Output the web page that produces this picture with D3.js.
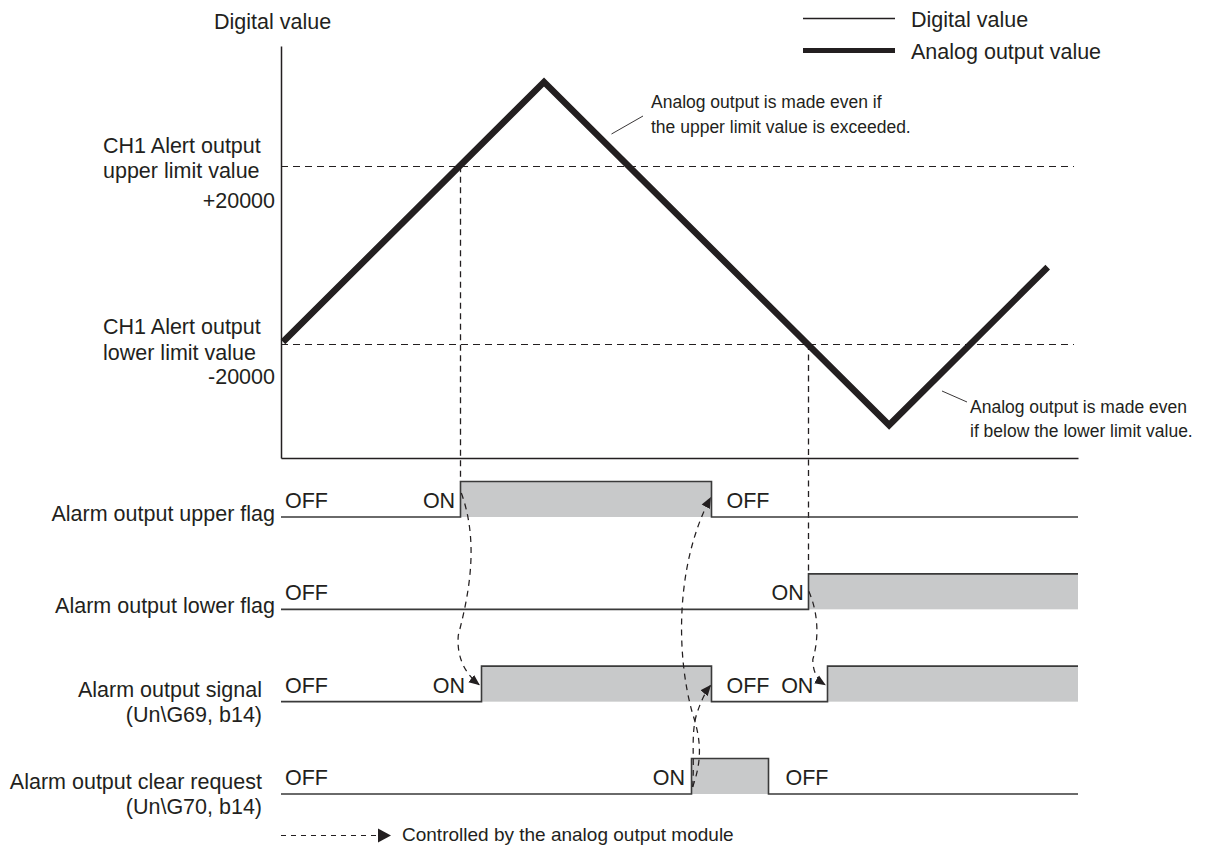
<!DOCTYPE html>
<html><head><meta charset="utf-8">
<script src="https://cdn.jsdelivr.net/npm/d3@7"></script>
<style>
body{margin:0;background:#fff}
svg{display:block}
text{font-family:"Liberation Sans",Arial,sans-serif;fill:#231f20}
</style>
</head><body>
<svg id="c" width="1212" height="847"></svg>
<script>
// ---------- data ----------
const timeDomain = [0, 100];
const valueDomain = [-45600, 47000];
const analogTimes = [0.25, 33.0, 76.3, 96.2];
const analogValues = [-19500, 38900, -38200, -2700];
const upperLimit = 20000;
const lowerLimit = -20000;
const limitLabels = [["CH1 Alert output", "upper limit value", "+20000"], ["CH1 Alert output", "lower limit value", "-20000"]];
const rowNames = ["Alarm output upper flag", "Alarm output lower flag", "Alarm output signal", "Alarm output clear request"];
const rowSubNames = ["", "", "(Un\\G69, b14)", "(Un\\G70, b14)"];
const upperFlagOn = [[22.5, 54.0]];
const lowerFlagOn = [[66.1, 100]];
const signalOn = [[25.1, 54.0], [68.5, 100]];
const clearOn = [[51.4, 61.1]];
const rowIntervals = [upperFlagOn, lowerFlagOn, signalOn, clearOn];
// state labels: [text, time, anchor]
const upperLabels = [["OFF", 0.5, "start"], ["ON", 21.85, "end"], ["OFF", 55.9, "start"]];
const lowerLabels = [["OFF", 0.5, "start"], ["ON", 65.6, "end"]];
const signalLabels = [["OFF", 0.5, "start"], ["ON", 23.1, "end"], ["OFF", 55.9, "start"], ["ON", 66.8, "end"]];
const clearLabels = [["OFF", 0.5, "start"], ["ON", 50.7, "end"], ["OFF", 63.3, "start"]];
const rowLabels = [upperLabels, lowerLabels, signalLabels, clearLabels];
const legendNames = ["Digital value", "Analog output value"];
const noteUpper = ["Analog output is made even if", "the upper limit value is exceeded."];
const noteLower = ["Analog output is made even", "if below the lower limit value."];
const controlNote = "Controlled by the analog output module";

// ---------- layout ----------
const svg = d3.select("#c");
const INK = "#231f20";
const x = d3.scaleLinear().domain(timeDomain).range([281, 1078]);
const y = d3.scaleLinear().domain(valueDomain).range([458, 46]);
const rowY = d3.scalePoint().domain(rowNames).range([517, 794]);
const H = 35.5;
const px = v => Math.round(v) + 0.5; // crisp vertical hairlines

// markers
const defs = svg.append("defs");
defs.append("marker").attr("id", "ah").attr("viewBox", "0 0 10 10")
  .attr("refX", 9).attr("refY", 5).attr("markerWidth", 11).attr("markerHeight", 11)
  .attr("markerUnits", "userSpaceOnUse").attr("orient", "auto")
  .append("path").attr("d", "M0,0.8 L10,5 L0,9.2 Z").attr("fill", INK);

// title
svg.append("text").attr("x", 214).attr("y", 29).attr("font-size", 21.5).text("Digital value");

// axes
const gy = svg.append("g").attr("transform", `translate(${x(0)},0)`)
  .call(d3.axisLeft(y).tickValues([]).tickSizeOuter(0));
const gx = svg.append("g").attr("transform", `translate(0,${y(valueDomain[0])})`)
  .call(d3.axisBottom(x).tickValues([]).tickSizeOuter(0));
[gx, gy].forEach(g => g.select(".domain").attr("stroke", INK).attr("stroke-width", 1.5));

// limit lines
[upperLimit, lowerLimit].forEach(v => {
  svg.append("line").attr("x1", x(0)).attr("x2", x(99.5)).attr("y1", px(y(v))).attr("y2", px(y(v)))
    .attr("stroke", INK).attr("stroke-width", 1.2).attr("stroke-dasharray", "7,5");
});

// limit labels
[[upperLimit, limitLabels[0]], [lowerLimit, limitLabels[1]]].forEach(([v, lab], i) => {
  const yy = y(v);
  const off = i === 0 ? [-13, 12, 42] : [-10, 16, 40];
  svg.append("text").attr("x", 103).attr("y", yy + off[0]).attr("font-size", 21.5).text(lab[0]);
  svg.append("text").attr("x", 103).attr("y", yy + off[1]).attr("font-size", 21.5).text(lab[1]);
  svg.append("text").attr("x", 275).attr("y", yy + off[2]).attr("font-size", 21.5).attr("text-anchor", "end").text(lab[2]);
});

// analog output line
const pts = analogTimes.map((t, i) => [t, analogValues[i]]);
svg.append("path").datum(pts)
  .attr("d", d3.line().x(d => x(d[0])).y(d => y(d[1])))
  .attr("fill", "none").attr("stroke", INK).attr("stroke-width", 6.5).attr("stroke-linejoin", "miter");

// vertical dashed lines from limit crossings to flags
svg.append("line").attr("x1", px(x(upperFlagOn[0][0]))).attr("x2", px(x(upperFlagOn[0][0])))
  .attr("y1", y(upperLimit)).attr("y2", rowY(rowNames[0]) - H)
  .attr("stroke", INK).attr("stroke-width", 1.3).attr("stroke-dasharray", "6,4.5");
svg.append("line").attr("x1", px(x(lowerFlagOn[0][0]))).attr("x2", px(x(lowerFlagOn[0][0])))
  .attr("y1", y(lowerLimit)).attr("y2", rowY(rowNames[1]) - H)
  .attr("stroke", INK).attr("stroke-width", 1.3).attr("stroke-dasharray", "6,4.5");

// annotations
svg.append("line").attr("x1", 611.5).attr("y1", 134).attr("x2", 643).attr("y2", 116).attr("stroke", INK).attr("stroke-width", 0.9);
noteUpper.forEach((s, i) => svg.append("text").attr("x", 651).attr("y", 108 + i * 24.5).attr("font-size", 17.5).text(s));
svg.append("line").attr("x1", 942).attr("y1", 391).attr("x2", 967).attr("y2", 402).attr("stroke", INK).attr("stroke-width", 0.9);
noteLower.forEach((s, i) => svg.append("text").attr("x", 970).attr("y", 413 + i * 24).attr("font-size", 17.5).text(s));

// legend
svg.append("line").attr("x1", 803).attr("x2", 895).attr("y1", 18.5).attr("y2", 18.5).attr("stroke", INK).attr("stroke-width", 1.3);
svg.append("line").attr("x1", 803).attr("x2", 895).attr("y1", 50.5).attr("y2", 50.5).attr("stroke", INK).attr("stroke-width", 5);
legendNames.forEach((s, i) => svg.append("text").attr("x", 911).attr("y", 26.5 + i * 32.5).attr("font-size", 21.5).text(s));

// timing rows
rowNames.forEach((name, r) => {
  const base = rowY(name);
  const top = base - H;
  const iv = rowIntervals[r];
  iv.forEach(([a, b]) => {
    svg.append("rect").attr("x", px(x(a))).attr("y", top).attr("width", x(b) - px(x(a))).attr("height", H).attr("fill", "#c8c9ca");
  });
  const p = d3.path();
  p.moveTo(x(0), base);
  iv.forEach(([a, b]) => {
    const xa = px(x(a)), xb = px(x(b));
    p.lineTo(xa, base); p.lineTo(xa, top);
    if (b < timeDomain[1]) { p.lineTo(xb, top); p.lineTo(xb, base); } else p.lineTo(x(b), top);
  });
  const last = iv[iv.length - 1];
  if (last[1] < timeDomain[1]) p.lineTo(x(timeDomain[1]), base);
  svg.append("path").attr("d", p.toString()).attr("fill", "none").attr("stroke", "#3a3a3a").attr("stroke-width", 1.6);
  rowLabels[r].forEach(([t, tm, anc]) => {
    svg.append("text").attr("x", x(tm)).attr("y", base - 9).attr("text-anchor", anc).attr("font-size", 21.5).text(t);
  });
  if (rowSubNames[r]) {
    svg.append("text").attr("x", 262).attr("y", base - 5).attr("text-anchor", "end").attr("font-size", 21.5).text(name);
    svg.append("text").attr("x", 262).attr("y", base + 20).attr("text-anchor", "end").attr("font-size", 21.5).text(rowSubNames[r]);
  } else {
    svg.append("text").attr("x", 275).attr("y", base + 4).attr("text-anchor", "end").attr("font-size", 21.5).text(name);
  }
});

// curved arrows (controlled by module)
const yU = rowY(rowNames[0]), yL = rowY(rowNames[1]), yS = rowY(rowNames[2]), yC = rowY(rowNames[3]);
const a1 = x(upperFlagOn[0][0]), e1 = x(signalOn[0][0]);
const c1 = x(clearOn[0][0]), f1 = x(upperFlagOn[0][1]);
const l1 = x(lowerFlagOn[0][0]), s2 = x(signalOn[1][0]);
const arrows = [
  `M${a1 + 1},${yU - 24} C${a1 + 18},${yU + 23} ${a1 + 10},${yU + 73} ${a1 - 2},${yU + 118} C${a1 - 4},${yU + 140} ${e1 - 16},${yS - 28} ${e1 - 2},${yS - 17}`,
  `M${c1 + 2},${yC - 7} C${c1 + 10},${yC - 30} ${c1 + 12},${yC - 50} ${c1 + 2},${yC - 80} C${c1 - 15},${yC - 140} ${c1 - 15},${yC - 230} ${f1 - 1},${yU - 19}`,
  `M${c1 + 2},${yC - 7} C${c1 + 4},${yC - 35} ${c1},${yC - 60} ${c1 + 6},${yC - 80} C${c1 + 10},${yC - 92} ${f1 - 6},${yS - 10} ${f1 - 1},${yS - 16}`,
  `M${l1 + 1},${yL - 18} C${l1 + 11},${yL + 5} ${l1 + 11},${yL + 30} ${l1 + 5},${yL + 50} C${l1 + 5},${yL + 62} ${s2 - 10},${yS - 22} ${s2 - 2},${yS - 17}`
];
arrows.forEach(d => svg.append("path").attr("d", d).attr("fill", "none").attr("stroke", INK)
  .attr("stroke-width", 1.25).attr("stroke-dasharray", "6,5").attr("marker-end", "url(#ah)"));

// bottom legend
svg.append("line").attr("x1", 281).attr("x2", 376).attr("y1", 835.5).attr("y2", 835.5)
  .attr("stroke", INK).attr("stroke-width", 1.1).attr("stroke-dasharray", "5,5");
svg.append("path").attr("d", "M378,828.5 L391,835.5 L378,842.5 Z").attr("fill", INK);
svg.append("text").attr("x", 402).attr("y", 841).attr("font-size", 19).text(controlNote);
</script>
</body></html>
